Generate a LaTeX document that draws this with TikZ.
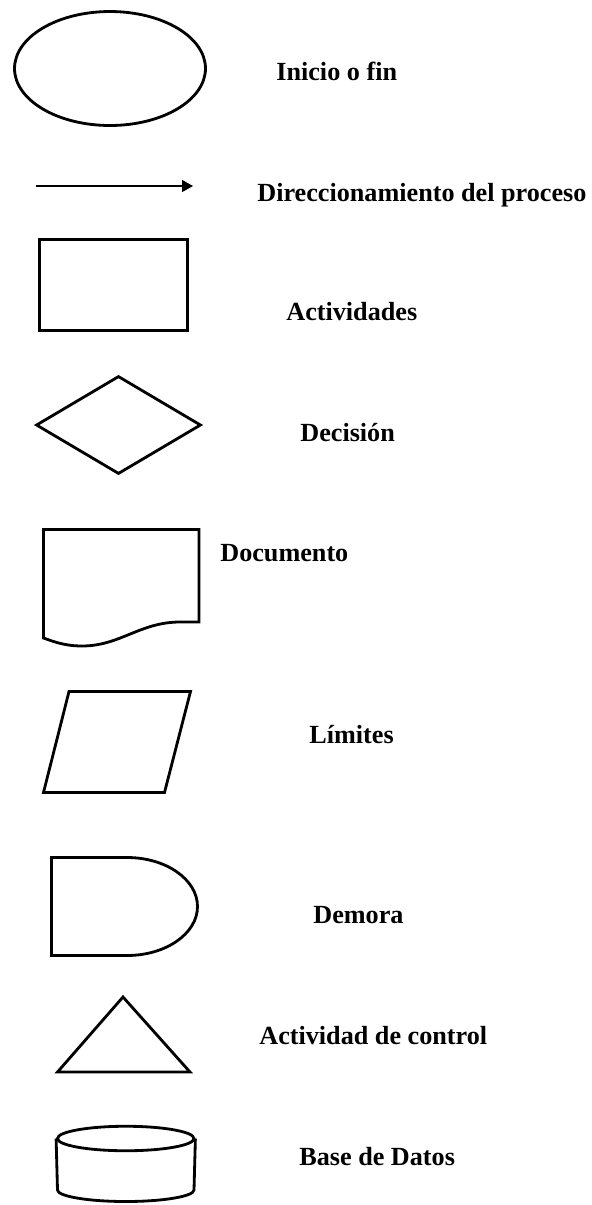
\documentclass[tikz,border=0pt]{standalone}
\usepackage{fontspec}
\setmainfont{Liberation Serif}
\usetikzlibrary{arrows.meta,shapes.geometric}

\begin{document}
\begin{tikzpicture}[
  x=0.02cm,y=-0.02cm,
  forma/.style={draw,line width=1.6pt,inner sep=0pt},
  etiq/.style={font=\fontsize{14.9}{18}\selectfont\bfseries,anchor=base west,inner sep=0pt},
  flecha/.style={-{Triangle[length=2.2mm,width=2.4mm]},line width=0.8pt}
]
  \useasboundingbox (0,0) rectangle (592,1205);
  % Simbolos
  \node[forma,ellipse,minimum width=3.82cm,minimum height=2.28cm] (inicio) at (110,68.5) {};
  \coordinate (flechaIni) at (36,186);
  \coordinate (flechaFin) at (193,186);
  \draw[flecha] (flechaIni) -- (flechaFin);
  \node[forma,rectangle,minimum width=2.96cm,minimum height=1.82cm] (actividad) at (113.5,285) {};
  \node[forma,diamond,minimum width=3.3cm,minimum height=1.96cm] (decision) at (118.5,425) {};
  \draw[forma] (43.5,529.5) -- (199,529.5) -- (199,622) -- (180,622)
    .. controls (140,622) and (120,646) .. (82,646)
    .. controls (64,646) and (52,641) .. (43.5,638) -- cycle;
  \draw[forma] (69,691.5) -- (190.5,691.5) -- (164.5,792.5) -- (43.5,792.5) -- cycle;
  \draw[forma] (127,857.5) -- (51.5,857.5) -- (51.5,955.5) -- (127,955.5)
    .. controls (166,955.5) and (197.5,933.5) .. (197.5,906.5)
    .. controls (197.5,879.5) and (166,857.5) .. (127,857.5) -- cycle;
  \draw[forma] (123,997) -- (190,1072) -- (57.5,1072) -- cycle;
  \node[forma,ellipse,minimum width=2.73cm,minimum height=0.49cm] (bdTapa) at (125.75,1138.5) {};
  \draw[forma] (bdTapa.west) -- (57.5,1190)
    .. controls (57.5,1196.3) and (88,1201.5) .. (125.75,1201.5)
    .. controls (163.5,1201.5) and (194,1196.3) .. (194,1190) -- (bdTapa.east);
  % Textos
  \node[etiq] (lblInicio) at (276,80.5) {Inicio o fin};
  \node[etiq] (lblFlecha) at (257,201.5) {Direccionamiento del proceso};
  \node[etiq] (lblActividad) at (286,320.5) {Actividades};
  \node[etiq] (lblDecision) at (300,441.5) {Decisión};
  \node[etiq] (lblDocumento) at (220,561.5) {Documento};
  \node[etiq] (lblLimites) at (309,743.5) {Límites};
  \node[etiq] (lblDemora) at (313,923.5) {Demora};
  \node[etiq] (lblControl) at (259,1044.5) {Actividad de control};
  \node[etiq] (lblBase) at (299,1165.5) {Base de Datos};
\end{tikzpicture}
\end{document}
